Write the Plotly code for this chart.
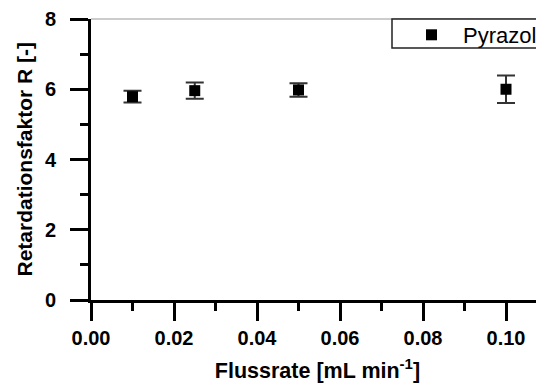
import plotly.graph_objects as go

flow_rate = [0.01, 0.025, 0.05, 0.10]
retardation = [5.79, 5.96, 5.98, 6.00]
retardation_err = [0.17, 0.23, 0.19, 0.39]
series_name = "Pyrazol"
x_title = "<b>Flussrate [mL min<sup>-1</sup>]</b>"
y_title = "<b>Retardationsfaktor R [-]</b>"

FONT = "Liberation Sans, Arial, sans-serif"
OFF = 8  # default page body margin
W, H = 544 - OFF, 383 - OFF
ML, MR, MT, MB = 91 - OFF, 0, 19 - OFF, 383 - 300
pw = W - ML - MR
ph = H - MT - MB

fig = go.Figure()
fig.add_trace(go.Scatter(
    x=flow_rate, y=retardation, mode="markers", name=series_name,
    marker=dict(symbol="square", size=11, color="black"),
    error_y=dict(type="data", array=retardation_err, visible=True,
                 color="#333333", thickness=2, width=9),
    cliponaxis=False,
))

# top frame line (grey)
fig.add_shape(type="line", xref="paper", yref="paper", x0=0, x1=1, y0=1, y1=1,
              line=dict(color="#999999", width=1.2), layer="below")
# legend box
lx0 = (392 - OFF - ML) / pw
ly1 = 1.0
ly0 = 1 - (48 - OFF - MT) / ph
fig.add_shape(type="rect", xref="paper", yref="paper", x0=lx0, x1=1.2, y0=ly0, y1=ly1,
              line=dict(color="#222222", width=1.5), fillcolor="white", layer="above")

fig.add_annotation(text=y_title, textangle=-90, xref="paper", yref="paper",
                   x=(24 - OFF - ML) / pw, y=0.5, xanchor="center", yanchor="middle",
                   showarrow=False, font=dict(family=FONT, size=21, color="black"))

fig.update_layout(
    width=W, height=H,
    margin=dict(l=ML, r=MR, t=MT, b=MB, autoexpand=False),
    plot_bgcolor="white", paper_bgcolor="white",
    showlegend=True,
    legend=dict(x=(400 - OFF - ML) / pw, y=1 - (35 - OFF - MT) / ph, xanchor="left", yanchor="middle",
                bgcolor="rgba(0,0,0,0)", borderwidth=0, itemwidth=53,
                font=dict(family=FONT, size=22, color="black")),
    font=dict(family=FONT, color="black"),
)
fig.update_xaxes(
    range=[0, (544 - 91) / 4150], showline=True, linecolor="black", linewidth=3,
    ticks="outside", ticklen=18, tickwidth=3, tickcolor="black",
    tick0=0, dtick=0.02, tickformat=".2f", automargin=False,
    minor=dict(ticks="outside", ticklen=8, tickwidth=3, tickcolor="black", dtick=0.01, tick0=0),
    showgrid=False, zeroline=False,
    tickfont=dict(family=FONT, size=20, color="black", weight="bold"),
    title=dict(text=x_title, font=dict(family=FONT, size=21.5, color="black")),
)
fig.update_yaxes(
    range=[0, 8], showline=True, linecolor="black", linewidth=3,
    ticks="outside", ticklen=18, tickwidth=3, tickcolor="black",
    tick0=0, dtick=2, automargin=False, ticksuffix="\u2002",
    minor=dict(ticks="outside", ticklen=8, tickwidth=3, tickcolor="black", dtick=1, tick0=0),
    showgrid=False, zeroline=False,
    tickfont=dict(family=FONT, size=20, color="black", weight="bold"),
)

fig.write_html("out.html")
